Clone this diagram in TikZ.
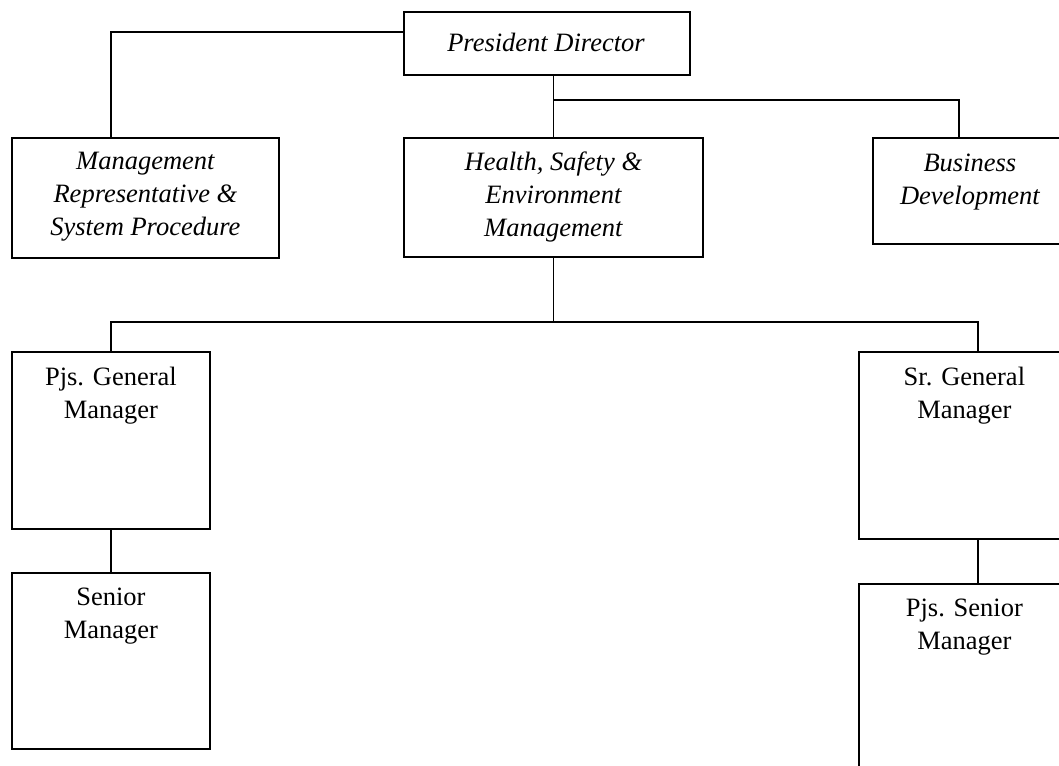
\documentclass[tikz,border=0pt]{standalone}
\usepackage{fontspec}
\setmainfont{Liberation Serif}
\begin{document}
\begin{tikzpicture}[x=1pt,y=-1pt,
  box/.style={draw,line width=1.8pt,rectangle,inner sep=0pt,anchor=north west},
  conn/.style={line width=1.8pt},
  txt/.style={align=center,inner sep=0pt,font=\fontsize{26.5}{33}\selectfont},
  ital/.style={txt,font=\fontsize{26.5}{33}\selectfont\itshape}]
\useasboundingbox (0,0) rectangle (1059,765);
\clip (0,0) rectangle (1059,765);
% boxes
\node[box,minimum width=286pt,minimum height=63pt] (pres) at (403,11) {};
\node[ital] (prest) at (546,42) {President Director};
\node[box,minimum width=267pt,minimum height=120pt] (mgmt) at (11,137) {};
\node[ital] (mgmtt) at ([yshift=1pt]mgmt.center) {Management\\Representative \&\\System Procedure};
\node[box,minimum width=299pt,minimum height=119pt] (hse) at (403,137) {};
\node[ital] (hset) at (hse.center) {Health, Safety \&\\Environment\\Management};
\node[box,minimum width=196pt,minimum height=106pt] (bd) at (872,137) {};
\node[ital] (bdt) at ([xshift=-1pt,yshift=9pt]bd.center) {Business\\Development};
\node[box,minimum width=198pt,minimum height=177pt] (pgm) at (11,351) {};
\node[txt,anchor=north] (pgmt) at ([yshift=-16pt]pgm.north) {Pjs. General\\Manager};
\node[box,minimum width=211pt,minimum height=187pt] (sgm) at (858,351) {};
\node[txt,anchor=north] (sgmt) at ([yshift=-16pt]sgm.north) {Sr. General\\Manager};
\node[box,minimum width=198pt,minimum height=176pt] (sm) at (11,572) {};
\node[txt,anchor=north] (smt) at ([yshift=-16pt]sm.north) {Senior\\Manager};
\node[box,minimum width=211pt,minimum height=200pt] (psm) at (858,583) {};
\node[txt,anchor=north] (psmt) at ([yshift=-16pt]psm.north) {Pjs. Senior\\Manager};
% connectors
\coordinate (mtop) at ([xshift=-34.5pt]mgmt.north);
\coordinate (bdtop) at ([xshift=-12pt]bd.north);
\coordinate (sgmtop) at ([xshift=13.5pt]sgm.north);
\coordinate (sgmbot) at ([xshift=13.5pt]sgm.south);
\coordinate (psmtop) at ([xshift=13.5pt]psm.north);
\coordinate (br1) at (hse.north |- 0,100);
\coordinate (br2) at (hse.south |- 0,322);
\draw[conn] ([yshift=11pt]pres.west) -| (mtop);
\draw[conn] (hse.north |- pres.south) -- (hse.north);
\draw[conn] (br1) -| (bdtop);
\draw[conn] (hse.south) -- (br2);
\draw[conn] (br2) -| (pgm.north);
\draw[conn] (br2) -| (sgmtop);
\draw[conn] (pgm.south) -- (sm.north);
\draw[conn] (sgmbot) -- (psmtop);
\end{tikzpicture}
\end{document}
